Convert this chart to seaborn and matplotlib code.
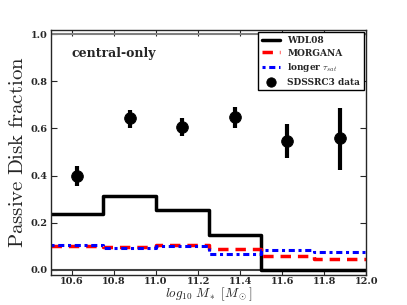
import numpy as np
import pandas as pd
import matplotlib
matplotlib.use('Agg')
import matplotlib.pyplot as plt
import seaborn as sns

# bin edges in log10 stellar mass
edges = [10.5, 10.75, 11.0, 11.25, 11.5, 11.75, 12.0]
wdl08 = [0.238, 0.312, 0.255, 0.146, 0.0, 0.0]
morgana = [0.101, 0.096, 0.106, 0.088, 0.058, 0.045]
longer_tau = [0.105, 0.092, 0.099, 0.068, 0.085, 0.076]

# SDSS DR3 points
data_x = [10.625, 10.875, 11.125, 11.375, 11.625, 11.875]
data_y = [0.397, 0.646, 0.607, 0.650, 0.547, 0.561]
data_lo = [0.043, 0.043, 0.038, 0.049, 0.074, 0.139]
data_hi = [0.042, 0.034, 0.039, 0.042, 0.071, 0.128]

sns.set_style('ticks')
plt.rcParams['font.family'] = ['DejaVu Serif']
plt.rcParams['mathtext.fontset'] = 'cm'

fig = plt.figure(figsize=(4.07, 3.05), dpi=100)
ax = fig.add_axes([0.125, 0.1, 0.775, 0.803])


def steps(vals):
    return pd.DataFrame({'x': edges, 'y': list(vals) + [vals[-1]]})


ax.axhline(1.0, color='0.5', lw=1.5, zorder=1)
ax.axhline(0.0, color='0.25', lw=1.5, zorder=1)

sns.lineplot(data=steps(wdl08), x='x', y='y', drawstyle='steps-post',
             color='black', lw=2.5, label='WDL08', ax=ax)
sns.lineplot(data=steps(morgana), x='x', y='y', drawstyle='steps-post',
             color='red', lw=2.5, ls=(0, (3, 2)), label='MORGANA', ax=ax)
sns.lineplot(data=steps(longer_tau), x='x', y='y', drawstyle='steps-post',
             color='blue', lw=2.2, ls=(0, (1, 1.2, 2, 1.2)),
             label=r'longer $\tau_{sat}$', ax=ax)
ax.errorbar(data_x, data_y, yerr=[data_lo, data_hi], fmt='none', ecolor='black',
            elinewidth=3, capsize=0, zorder=5)
sns.scatterplot(x=data_x, y=data_y, color='black', s=70, edgecolor='black',
                label='SDSSRC3 data', zorder=6, ax=ax)

ax.set_xlim(10.5, 12.0)
ax.set_ylim(-0.02, 1.02)
ax.set_xticks([10.6, 10.8, 11.0, 11.2, 11.4, 11.6, 11.8, 12.0])
ax.set_yticks([0.0, 0.2, 0.4, 0.6, 0.8, 1.0])
ax.tick_params(direction='in', top=True, right=True, labelsize=7, length=4)
ax.tick_params(axis='x', pad=2)
ax.tick_params(axis='y', pad=2.5)
for lbl in ax.get_xticklabels() + ax.get_yticklabels():
    lbl.set_fontweight('bold')
for sp in ax.spines.values():
    sp.set_linewidth(1.0)

ax.set_xlabel(r'$log_{10}\ M_*\ [M_\odot]$', fontsize=9.5)
ax.xaxis.set_label_coords(0.5, -0.046)
ax.set_ylabel(r'$\mathrm{Passive\ Disk\ fraction}$', fontsize=15, labelpad=2)

ax.text(10.6, 0.918, 'central-only', fontsize=9, fontweight='bold',
        va='center', ha='left')

leg = ax.legend(loc='upper right', prop={'weight': 'bold', 'size': 6.5},
                handlelength=2.0, borderaxespad=0.3, fancybox=False,
                framealpha=1, edgecolor='black', labelspacing=0.4,
                markerscale=0.8)
leg.get_frame().set_linewidth(1.0)

fig.savefig('out.png', dpi=100)
